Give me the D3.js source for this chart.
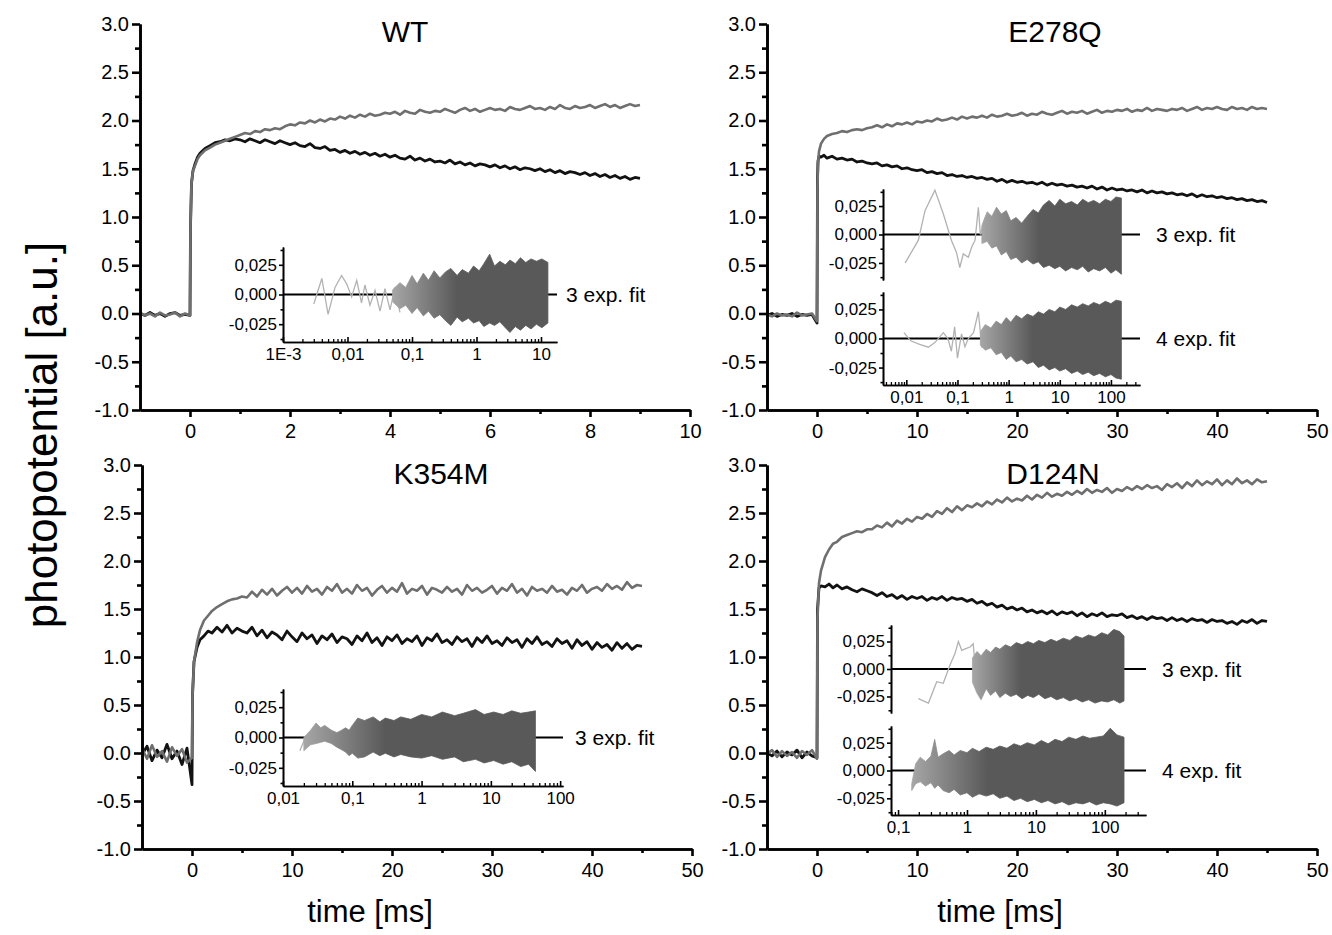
<!DOCTYPE html>
<html>
<head>
<meta charset="utf-8">
<script src="https://cdn.jsdelivr.net/npm/d3@7"></script>
<style>
  body { margin: 0; background: #fff; }
  svg { display: block; font-family: "Liberation Sans", Arial, sans-serif; }
</style>
</head>
<body>
<svg id="chart" width="1332" height="935"></svg>
<script>
// ---- main traces (time in ms, photopotential in a.u.) ----
const wtTime = [-1.0,-0.9,-0.8,-0.7,-0.6,-0.5,-0.4,-0.3,-0.2,-0.1,0.0,
  0.01,0.03,0.06,0.1,0.15,0.2,0.3,0.4,0.5,0.6,0.7,0.8,0.9,
  1.0,1.1,1.2,1.3,1.4,1.5,1.6,1.7,1.8,1.9,2.0,2.1,2.2,2.3,2.4,2.5,2.6,2.7,2.8,2.9,
  3.0,3.1,3.2,3.3,3.4,3.5,3.6,3.7,3.8,3.9,4.0,4.1,4.2,4.3,4.4,4.5,4.6,4.7,4.8,4.9,
  5.0,5.1,5.2,5.3,5.4,5.5,5.6,5.7,5.8,5.9,6.0,6.1,6.2,6.3,6.4,6.5,6.6,6.7,6.8,6.9,
  7.0,7.1,7.2,7.3,7.4,7.5,7.6,7.7,7.8,7.9,8.0,8.1,8.2,8.3,8.4,8.5,8.6,8.7,8.8,8.9,9.0];
const wtGray = [0.01,-0.02,0.0,-0.03,0.01,-0.02,-0.01,0.01,-0.03,0.0,-0.02,
  0.9,1.35,1.48,1.53,1.6,1.64,1.69,1.72,1.75,1.77,1.79,1.81,1.83,
  1.85,1.87,1.86,1.89,1.88,1.91,1.90,1.92,1.91,1.94,1.96,1.95,1.98,1.97,2.00,1.98,2.01,1.99,2.02,2.01,
  2.04,2.02,2.05,2.03,2.06,2.04,2.07,2.05,2.06,2.08,2.07,2.09,2.06,2.10,2.08,2.07,2.11,2.09,2.08,2.10,
  2.09,2.12,2.10,2.08,2.11,2.13,2.10,2.12,2.09,2.11,2.13,2.11,2.12,2.10,2.14,2.12,2.11,2.13,2.15,2.12,
  2.13,2.11,2.14,2.12,2.16,2.13,2.12,2.15,2.13,2.14,2.16,2.13,2.15,2.17,2.14,2.16,2.13,2.15,2.17,2.15,2.16];
const wtBlack = [0.0,-0.02,0.01,-0.02,0.0,-0.03,0.0,0.01,-0.02,-0.01,-0.02,
  0.9,1.35,1.48,1.55,1.62,1.66,1.71,1.74,1.77,1.78,1.80,1.79,1.81,
  1.80,1.78,1.81,1.79,1.77,1.80,1.78,1.76,1.79,1.77,1.75,1.77,1.74,1.73,1.76,1.72,1.71,1.73,1.69,1.70,
  1.67,1.69,1.66,1.68,1.65,1.67,1.64,1.66,1.63,1.65,1.62,1.64,1.61,1.60,1.63,1.59,1.61,1.58,1.60,1.57,
  1.58,1.56,1.59,1.55,1.57,1.54,1.56,1.53,1.55,1.54,1.52,1.54,1.51,1.53,1.50,1.52,1.49,1.51,1.50,1.48,
  1.50,1.47,1.49,1.46,1.48,1.45,1.47,1.46,1.44,1.46,1.43,1.45,1.42,1.44,1.41,1.43,1.40,1.42,1.39,1.41,1.40];

// the 45 ms recordings share the same time grid before trigger and after 5 ms
const preTime = [-5,-4.5,-4,-3.5,-3,-2.5,-2,-1.5,-1,-0.5,0];
const tailTime = [5.5,6,6.5,7,7.5,8,8.5,9,9.5,10,10.5,11,11.5,12,12.5,13,13.5,14,14.5,15,
  15.5,16,16.5,17,17.5,18,18.5,19,19.5,20,20.5,21,21.5,22,22.5,23,23.5,24,24.5,25,
  25.5,26,26.5,27,27.5,28,28.5,29,29.5,30,30.5,31,31.5,32,32.5,33,33.5,34,34.5,35,
  35.5,36,36.5,37,37.5,38,38.5,39,39.5,40,40.5,41,41.5,42,42.5,43,43.5,44,44.5,45];

const eqRiseTime = [0.05,0.1,0.2,0.4,0.7,1.0,1.5,2.0,2.5,3,3.5,4,4.5,5];
const eqGray = [-0.01,-0.03,0.0,-0.02,-0.01,-0.03,0.01,-0.02,-0.01,0.0,-0.08,
  1.3,1.55,1.68,1.76,1.81,1.84,1.86,1.87,1.89,1.88,1.90,1.91,1.90,1.92,
  1.93,1.95,1.93,1.96,1.94,1.97,1.96,1.98,1.96,1.99,1.98,2.00,1.99,2.02,2.00,2.01,2.03,2.01,2.04,2.02,
  2.04,2.03,2.05,2.03,2.06,2.04,2.05,2.07,2.05,2.06,2.08,2.05,2.07,2.06,2.09,2.07,2.06,2.08,2.10,2.07,
  2.09,2.08,2.10,2.07,2.09,2.11,2.08,2.10,2.09,2.11,2.10,2.12,2.09,2.11,2.10,2.13,2.10,2.12,2.11,2.10,
  2.12,2.11,2.13,2.10,2.12,2.14,2.11,2.13,2.12,2.14,2.12,2.11,2.14,2.12,2.13,2.11,2.14,2.12,2.13,2.12];
const eqBlack = [-0.02,0.0,-0.03,-0.01,-0.02,0.0,-0.03,-0.01,-0.02,-0.01,-0.1,
  1.4,1.58,1.63,1.62,1.64,1.61,1.63,1.60,1.61,1.59,1.60,1.57,1.58,1.56,
  1.55,1.56,1.53,1.54,1.52,1.53,1.50,1.51,1.49,1.48,1.49,1.46,1.47,1.45,1.46,1.43,1.44,1.42,1.43,1.41,
  1.42,1.40,1.41,1.39,1.40,1.37,1.39,1.36,1.38,1.36,1.37,1.35,1.36,1.34,1.36,1.33,1.35,1.33,1.34,1.32,
  1.33,1.31,1.32,1.30,1.32,1.29,1.31,1.28,1.30,1.28,1.29,1.27,1.28,1.26,1.28,1.25,1.27,1.25,1.26,1.24,
  1.25,1.23,1.24,1.22,1.24,1.21,1.23,1.21,1.22,1.20,1.21,1.19,1.20,1.18,1.19,1.17,1.18,1.16,1.17,1.15];

const kmRiseTime = [0.05,0.2,0.5,0.8,1.2,1.6,2.0,2.5,3,3.5,4,4.5,5];
const kmGray = [0.05,-0.06,0.08,-0.04,0.02,-0.09,0.06,-0.03,0.04,-0.10,-0.05,
  0.6,0.95,1.15,1.28,1.38,1.43,1.48,1.52,1.55,1.58,1.60,1.61,1.63,
  1.62,1.68,1.63,1.70,1.65,1.71,1.64,1.69,1.73,1.67,1.72,1.66,1.74,1.68,1.71,1.65,1.73,1.69,1.76,1.67,
  1.71,1.66,1.75,1.69,1.72,1.64,1.70,1.74,1.67,1.72,1.68,1.77,1.66,1.71,1.69,1.74,1.65,1.72,1.70,1.67,
  1.73,1.68,1.71,1.65,1.75,1.69,1.72,1.67,1.70,1.74,1.66,1.72,1.69,1.76,1.67,1.71,1.64,1.73,1.69,1.71,
  1.67,1.74,1.68,1.70,1.65,1.72,1.69,1.75,1.67,1.71,1.73,1.69,1.76,1.71,1.74,1.70,1.78,1.72,1.75,1.74];
const kmBlack = [-0.02,0.07,-0.08,0.03,-0.05,0.09,-0.06,0.02,-0.12,0.05,-0.33,
  0.6,0.95,1.1,1.18,1.22,1.27,1.25,1.31,1.26,1.33,1.25,1.30,1.27,
  1.25,1.31,1.22,1.28,1.20,1.26,1.23,1.18,1.27,1.21,1.16,1.25,1.19,1.23,1.14,1.22,1.18,1.24,1.15,1.21,
  1.19,1.13,1.22,1.17,1.25,1.15,1.20,1.12,1.21,1.17,1.23,1.14,1.19,1.16,1.22,1.12,1.20,1.17,1.24,1.15,
  1.18,1.13,1.21,1.16,1.19,1.11,1.20,1.15,1.22,1.14,1.17,1.12,1.20,1.15,1.18,1.10,1.19,1.14,1.21,1.13,
  1.16,1.11,1.19,1.14,1.17,1.09,1.18,1.12,1.16,1.08,1.15,1.10,1.13,1.07,1.15,1.09,1.14,1.08,1.12,1.11];

const dnRiseTime = [0.05,0.2,0.4,0.8,1.2,1.6,2.0,2.5,3,3.5,4,4.5,5];
const dnGray = [-0.01,0.03,-0.04,0.02,-0.03,0.01,-0.05,0.02,-0.02,0.03,-0.06,
  1.4,1.77,1.9,2.04,2.12,2.18,2.20,2.25,2.27,2.29,2.31,2.30,2.33,
  2.33,2.37,2.35,2.40,2.36,2.42,2.39,2.44,2.41,2.46,2.44,2.49,2.46,2.52,2.49,2.55,2.51,2.57,2.53,2.58,
  2.56,2.60,2.57,2.62,2.59,2.64,2.61,2.66,2.62,2.65,2.63,2.68,2.64,2.69,2.66,2.71,2.67,2.70,2.68,2.72,
  2.69,2.73,2.70,2.75,2.71,2.74,2.72,2.76,2.71,2.75,2.73,2.77,2.74,2.78,2.75,2.79,2.76,2.78,2.74,2.80,
  2.77,2.81,2.76,2.82,2.78,2.84,2.79,2.83,2.80,2.85,2.79,2.84,2.80,2.86,2.81,2.84,2.80,2.85,2.82,2.83];
const dnBlack = [0.0,-0.03,0.02,-0.04,0.01,-0.02,0.03,-0.05,0.01,-0.03,-0.05,
  1.5,1.72,1.74,1.73,1.76,1.72,1.75,1.71,1.73,1.70,1.68,1.71,1.69,
  1.67,1.64,1.67,1.63,1.65,1.61,1.64,1.60,1.63,1.61,1.63,1.59,1.62,1.60,1.63,1.59,1.62,1.60,1.61,1.58,
  1.60,1.56,1.58,1.54,1.56,1.52,1.54,1.50,1.52,1.49,1.51,1.47,1.49,1.46,1.48,1.45,1.48,1.44,1.47,1.45,
  1.47,1.43,1.46,1.42,1.45,1.43,1.46,1.42,1.44,1.43,1.45,1.41,1.43,1.40,1.42,1.39,1.42,1.40,1.41,1.38,
  1.41,1.38,1.40,1.37,1.40,1.38,1.39,1.36,1.39,1.37,1.38,1.35,1.37,1.34,1.38,1.36,1.39,1.35,1.38,1.37];

const eqTime = preTime.concat(eqRiseTime, tailTime);
const kmTime = preTime.concat(kmRiseTime, tailTime);
const dnTime = preTime.concat(dnRiseTime, tailTime);

// ---- residuals of the fits (log time axis) ----
// sparse early part (thin light line) + envelope of the dense part
const wtR3SparseT = [0.003,0.004,0.005,0.0064,0.0081,0.0097,0.0116,0.0139,0.0165,0.0186,0.0223,0.0267,0.0319,0.0381,0.0456,0.0545,0.065];
const wtR3SparseV = [-0.008,0.0135,-0.0167,0.006,0.016,0.009,-0.002,0.012,-0.007,0.008,-0.009,0.0035,-0.014,0.005,-0.013,0.006,-0.015];
const wtR3BandT = [0.05,0.065,0.08,0.1,0.12,0.15,0.18,0.22,0.27,0.33,0.4,0.5,0.6,0.75,0.9,1.1,1.3,1.6,1.9,2.3,2.8,3.3,4.0,4.8,5.8,7.0,8.5,10.3,12.8];
const wtR3BandHi = [0.004,0.010,0.006,0.016,0.009,0.018,0.012,0.020,0.014,0.019,0.022,0.016,0.021,0.018,0.024,0.020,0.026,0.034,0.024,0.028,0.025,0.029,0.026,0.031,0.027,0.030,0.028,0.030,0.027];
const wtR3BandLo = [-0.006,-0.012,-0.009,-0.016,-0.011,-0.018,-0.014,-0.020,-0.017,-0.022,-0.026,-0.019,-0.023,-0.020,-0.024,-0.022,-0.027,-0.024,-0.026,-0.023,-0.028,-0.032,-0.027,-0.030,-0.026,-0.029,-0.025,-0.028,-0.024];

const eqR3SparseT = [0.0095,0.0172,0.0232,0.0362,0.053,0.076,0.096,0.111,0.13,0.163,0.19,0.221,0.256,0.28,0.35];
const eqR3SparseV = [-0.025,-0.005,0.021,0.039,0.018,-0.005,-0.016,-0.029,-0.017,-0.02,-0.011,-0.005,0.024,0.0,0.015];
const eqR3BandT = [0.3,0.38,0.47,0.58,0.72,0.9,1.1,1.4,1.8,2.3,3.0,3.8,4.8,6.2,8,10,13,17,22,28,36,46,60,78,100,125,160];
const eqR3BandHi = [0.008,0.020,0.016,0.024,0.018,0.021,0.012,0.015,0.010,0.016,0.022,0.019,0.026,0.030,0.025,0.031,0.027,0.029,0.026,0.031,0.028,0.030,0.027,0.031,0.029,0.033,0.032];
const eqR3BandLo = [-0.008,-0.006,-0.012,-0.010,-0.018,-0.015,-0.022,-0.020,-0.025,-0.022,-0.026,-0.024,-0.029,-0.027,-0.030,-0.028,-0.032,-0.029,-0.031,-0.028,-0.033,-0.030,-0.032,-0.029,-0.034,-0.031,-0.035];

const eqR4SparseT = [0.009,0.0122,0.0182,0.027,0.036,0.053,0.065,0.076,0.088,0.10,0.12,0.14,0.163,0.206,0.256,0.30];
const eqR4SparseV = [0.005,-0.002,-0.005,-0.0075,-0.0035,0.005,0.0,-0.011,0.01,-0.017,0.004,-0.007,0.0,0.005,0.023,-0.008];
const eqR4BandT = [0.28,0.35,0.45,0.57,0.72,0.9,1.1,1.4,1.8,2.3,3.0,3.8,4.8,6.2,8,10,13,17,22,28,36,46,60,78,100,125,160];
const eqR4BandHi = [0.006,0.012,0.009,0.015,0.012,0.018,0.014,0.020,0.017,0.021,0.019,0.023,0.021,0.025,0.023,0.027,0.025,0.029,0.027,0.030,0.028,0.031,0.029,0.032,0.030,0.033,0.032];
const eqR4BandLo = [-0.006,-0.010,-0.008,-0.014,-0.012,-0.018,-0.015,-0.020,-0.018,-0.022,-0.020,-0.025,-0.023,-0.027,-0.025,-0.028,-0.026,-0.030,-0.028,-0.031,-0.029,-0.032,-0.030,-0.033,-0.031,-0.034,-0.035];

const kmR3SparseT = [0.0175,0.021,0.025,0.03];
const kmR3SparseV = [-0.011,0.0,-0.004,0.008];
const kmR3BandT = [0.02,0.025,0.03,0.035,0.04,0.05,0.06,0.07,0.08,0.09,0.1,0.12,0.15,0.2,0.25,0.3,0.4,0.5,0.7,1,1.4,2,3,4,6,8,11,15,20,27,35,44];
const kmR3BandHi = [0.0,0.006,0.012,0.008,0.010,0.006,0.004,0.006,0.008,0.006,0.010,0.016,0.014,0.017,0.013,0.016,0.014,0.017,0.015,0.019,0.017,0.021,0.018,0.020,0.023,0.019,0.021,0.019,0.022,0.020,0.021,0.022];
const kmR3BandLo = [-0.011,-0.006,-0.005,-0.004,-0.003,-0.005,-0.008,-0.010,-0.012,-0.015,-0.013,-0.017,-0.016,-0.012,-0.015,-0.013,-0.016,-0.014,-0.016,-0.017,-0.015,-0.018,-0.016,-0.020,-0.018,-0.021,-0.019,-0.022,-0.020,-0.024,-0.022,-0.028];

const dnR3SparseT = [0.197,0.276,0.364,0.453,0.567,0.67,0.75,0.84,1.0,1.11,1.23,1.38];
const dnR3SparseV = [-0.027,-0.031,-0.0115,-0.013,0.0037,0.014,0.025,0.017,0.019,0.02,0.023,-0.012];
const dnR3BandT = [1.2,1.4,1.6,1.9,2.2,2.6,3.0,3.6,4.3,5.2,6.3,7.6,9.2,11,13.5,16.5,20,25,31,38,47,58,72,90,110,135,165,190];
const dnR3BandHi = [0.010,0.016,0.012,0.018,0.015,0.020,0.018,0.022,0.020,0.024,0.022,0.025,0.023,0.026,0.024,0.027,0.025,0.028,0.026,0.030,0.028,0.031,0.029,0.033,0.031,0.036,0.034,0.030];
const dnR3BandLo = [-0.012,-0.022,-0.028,-0.018,-0.024,-0.020,-0.026,-0.022,-0.025,-0.023,-0.027,-0.024,-0.026,-0.023,-0.027,-0.025,-0.028,-0.026,-0.029,-0.027,-0.030,-0.028,-0.031,-0.029,-0.030,-0.028,-0.031,-0.029];

const dnR4SparseT = [];
const dnR4SparseV = [];
const dnR4BandT = [0.158,0.18,0.21,0.25,0.3,0.34,0.38,0.45,0.55,0.65,0.8,1.0,1.2,1.5,1.9,2.4,3.0,3.8,4.8,6,7.5,9.5,12,15,19,24,30,38,48,60,75,95,120,150,190];
const dnR4BandHi = [-0.012,0.006,0.012,0.008,0.013,0.028,0.012,0.015,0.018,0.014,0.018,0.016,0.020,0.017,0.021,0.019,0.022,0.020,0.024,0.022,0.025,0.023,0.027,0.024,0.028,0.026,0.030,0.028,0.031,0.029,0.030,0.031,0.038,0.032,0.030];
const dnR4BandLo = [-0.018,-0.012,-0.010,-0.014,-0.011,-0.016,-0.013,-0.018,-0.020,-0.017,-0.022,-0.020,-0.024,-0.021,-0.023,-0.021,-0.025,-0.023,-0.027,-0.025,-0.028,-0.026,-0.029,-0.027,-0.030,-0.028,-0.031,-0.029,-0.030,-0.028,-0.031,-0.029,-0.030,-0.032,-0.029];

// ---- tick values / labels ----
const mainYTicks = [-1, -0.5, 0, 0.5, 1, 1.5, 2, 2.5, 3];
const mainYMinor = [-0.75, -0.25, 0.25, 0.75, 1.25, 1.75, 2.25, 2.75];
const wtXTicks = [0, 2, 4, 6, 8, 10];
const wtXMinor = [1, 3, 5, 7, 9];
const longXTicks = [0, 10, 20, 30, 40, 50];
const longXMinor = [5, 15, 25, 35, 45];
const resYTicks = [0.025, 0, -0.025];
const resYLabels = ['0,025', '0,000', '-0,025'];
const resYMinor = [0.0375, 0.0125, -0.0125, -0.0375];
const logTickValues = [0.001, 0.01, 0.1, 1, 10, 100];
const logTickLabels = ['1E-3', '0,01', '0,1', '1', '10', '100'];

const GRAY = '#6f6f6f';
const BLACK = '#121212';

const svg = d3.select('#chart');
svg.append('rect').attr('width', 1332).attr('height', 935).attr('fill', '#fff');
const defs = svg.append('defs');

function zip(t, v) {
    return t.map((d, i) => [d, v[i]]);
}

function styleAxis(g, width) {
    g.select('.domain').attr('stroke', '#000').attr('stroke-width', width);
    g.selectAll('.tick line').attr('stroke', '#000').attr('stroke-width', width);
}

function styleLabels(g, size) {
    g.selectAll('text').attr('font-size', size).attr('font-family', null).attr('fill', '#000');
}

// plain hyphen for negatives, as in the original figure
const fmt1 = d => d3.format('.1f')(d).replace('\u2212', '-');

function drawPanel(p) {
    const x = d3.scaleLinear().domain(p.xDomain).range(p.xRange);
    const y = d3.scaleLinear().domain([-1, 3]).range(p.yRange);
    const g = svg.append('g');

    g.append('text')
        .attr('x', p.titleX).attr('y', p.titleY)
        .attr('text-anchor', 'middle')
        .attr('font-size', 30)
        .text(p.title);

    const line = d3.line().x(d => x(d[0])).y(d => y(d[1]));
    g.append('path')
        .datum(zip(p.time, p.black))
        .attr('fill', 'none').attr('stroke', BLACK).attr('stroke-width', 2.8)
        .attr('stroke-linejoin', 'round')
        .attr('d', line);
    g.append('path')
        .datum(zip(p.time, p.gray))
        .attr('fill', 'none').attr('stroke', GRAY).attr('stroke-width', 2.6)
        .attr('stroke-linejoin', 'round')
        .attr('d', line);

    // y axis, major + minor ticks
    const yAxis = g.append('g')
        .attr('transform', `translate(${p.xRange[0]},0)`)
        .call(d3.axisLeft(y).tickValues(mainYTicks).tickSize(8).tickSizeOuter(0)
            .tickPadding(3).tickFormat(fmt1));
    styleAxis(yAxis, 2.6);
    styleLabels(yAxis, 20);
    const yMinor = g.append('g')
        .attr('transform', `translate(${p.xRange[0]},0)`)
        .call(d3.axisLeft(y).tickValues(mainYMinor).tickSize(5).tickSizeOuter(0).tickFormat(''));
    styleAxis(yMinor, 2.6);

    const xAxis = g.append('g')
        .attr('transform', `translate(0,${p.yRange[0]})`)
        .call(d3.axisBottom(x).tickValues(p.xTicks).tickSize(7).tickSizeOuter(0).tickPadding(7));
    styleAxis(xAxis, 2.6);
    styleLabels(xAxis, 20);
    const xMinor = g.append('g')
        .attr('transform', `translate(0,${p.yRange[0]})`)
        .call(d3.axisBottom(x).tickValues(p.xMinor).tickSize(4).tickSizeOuter(0).tickFormat(''));
    styleAxis(xMinor, 2.6);
}

let gradId = 0;
function drawInset(c) {
    const x = d3.scaleLog().domain(c.xDomain).range(c.xRange);
    const g = svg.append('g');

    c.rows.forEach(r => {
        const y = d3.scaleLinear().domain([-0.04, 0.04]).range(r.yRange);

        g.append('line')
            .attr('x1', c.xRange[0]).attr('x2', c.xRange[1])
            .attr('y1', y(0)).attr('y2', y(0))
            .attr('stroke', '#000').attr('stroke-width', 2.2);

        if (r.sparseT.length) {
            g.append('path')
                .datum(zip(r.sparseT, r.sparseV))
                .attr('fill', 'none').attr('stroke', '#b2b2b2').attr('stroke-width', 1.3)
                .attr('d', d3.line().x(d => x(d[0])).y(d => y(d[1])));
        }

        // dense part: gets darker as the points pile up on the log axis
        const id = 'band' + (gradId++);
        const grad = defs.append('linearGradient').attr('id', id)
            .attr('gradientUnits', 'userSpaceOnUse')
            .attr('x1', x(r.bandT[0])).attr('x2', x(r.darkFrom))
            .attr('y1', 0).attr('y2', 0);
        grad.append('stop').attr('offset', 0).attr('stop-color', '#a6a6a6');
        grad.append('stop').attr('offset', 1).attr('stop-color', '#595959');

        const band = r.bandT.map((t, i) => ({ t, hi: r.bandHi[i], lo: r.bandLo[i] }));
        g.append('path')
            .datum(band)
            .attr('fill', `url(#${id})`)
            .attr('stroke', `url(#${id})`).attr('stroke-width', 0.8)
            .attr('d', d3.area().x(d => x(d.t)).y0(d => y(d.lo)).y1(d => y(d.hi)));

        const yAxis = g.append('g')
            .attr('transform', `translate(${c.xRange[0]},0)`)
            .call(d3.axisLeft(y).tickValues(resYTicks).tickSize(4).tickSizeOuter(0)
                .tickPadding(2).tickFormat((d, i) => resYLabels[i]));
        styleAxis(yAxis, 1.6);
        styleLabels(yAxis, 17);
        const yMinor = g.append('g')
            .attr('transform', `translate(${c.xRange[0]},0)`)
            .call(d3.axisLeft(y).tickValues(resYMinor).tickSize(2.5).tickSizeOuter(0).tickFormat(''));
        styleAxis(yMinor, 1.6);

        g.append('text')
            .attr('x', c.labelX).attr('y', y(0))
            .attr('dy', '0.36em')
            .attr('font-size', 21)
            .text(r.label);
    });

    // log x axis under the last row, ticks pointing inward
    const [lo, hi] = c.xDomain;
    const majors = logTickValues.filter(v => v >= lo * 0.999 && v <= hi);
    const minors = [];
    d3.range(Math.floor(Math.log10(lo)), Math.ceil(Math.log10(hi))).forEach(k => {
        d3.range(2, 10).forEach(m => {
            const v = m * Math.pow(10, k);
            if (v > lo && v < hi) minors.push(v);
        });
    });
    const xAxis = g.append('g')
        .attr('transform', `translate(0,${c.xAxisY})`)
        .call(d3.axisBottom(x).tickValues(majors).tickSize(-5).tickSizeOuter(0).tickPadding(6)
            .tickFormat(v => logTickLabels[logTickValues.indexOf(v)]));
    styleAxis(xAxis, 1.6);
    styleLabels(xAxis, 17);
    const xMinor = g.append('g')
        .attr('transform', `translate(0,${c.xAxisY})`)
        .call(d3.axisBottom(x).tickValues(minors).tickSize(-3).tickSizeOuter(0).tickFormat(''));
    styleAxis(xMinor, 1.3);
}

drawPanel({ title: 'WT', titleX: 405, titleY: 42, xDomain: [-1, 10], xRange: [140, 690], yRange: [410, 24],
    xTicks: wtXTicks, xMinor: wtXMinor, time: wtTime, gray: wtGray, black: wtBlack });
drawPanel({ title: 'E278Q', titleX: 1055, titleY: 42, xDomain: [-5, 50], xRange: [767, 1317], yRange: [410, 24],
    xTicks: longXTicks, xMinor: longXMinor, time: eqTime, gray: eqGray, black: eqBlack });
drawPanel({ title: 'K354M', titleX: 441, titleY: 484, xDomain: [-5, 50], xRange: [142, 692], yRange: [849, 465],
    xTicks: longXTicks, xMinor: longXMinor, time: kmTime, gray: kmGray, black: kmBlack });
drawPanel({ title: 'D124N', titleX: 1053, titleY: 484, xDomain: [-5, 50], xRange: [767, 1317], yRange: [849, 465],
    xTicks: longXTicks, xMinor: longXMinor, time: dnTime, gray: dnGray, black: dnBlack });

drawInset({ xDomain: [0.001, 17.7], xRange: [283, 557], xAxisY: 342, labelX: 566, rows: [
    { yRange: [342, 247], label: '3 exp. fit', sparseT: wtR3SparseT, sparseV: wtR3SparseV,
      bandT: wtR3BandT, bandHi: wtR3BandHi, bandLo: wtR3BandLo, darkFrom: 0.5 }] });
drawInset({ xDomain: [0.0035, 370], xRange: [883, 1140], xAxisY: 385, labelX: 1156, rows: [
    { yRange: [280, 189], label: '3 exp. fit', sparseT: eqR3SparseT, sparseV: eqR3SparseV,
      bandT: eqR3BandT, bandHi: eqR3BandHi, bandLo: eqR3BandLo, darkFrom: 4 },
    { yRange: [385, 292], label: '4 exp. fit', sparseT: eqR4SparseT, sparseV: eqR4SparseV,
      bandT: eqR4BandT, bandHi: eqR4BandHi, bandLo: eqR4BandLo, darkFrom: 3 }] });
drawInset({ xDomain: [0.01, 110], xRange: [283, 563], xAxisY: 786, labelX: 575, rows: [
    { yRange: [786, 689], label: '3 exp. fit', sparseT: kmR3SparseT, sparseV: kmR3SparseV,
      bandT: kmR3BandT, bandHi: kmR3BandHi, bandLo: kmR3BandLo, darkFrom: 0.3 }] });
drawInset({ xDomain: [0.079, 396], xRange: [891, 1146], xAxisY: 815, labelX: 1162, rows: [
    { yRange: [713, 625], label: '3 exp. fit', sparseT: dnR3SparseT, sparseV: dnR3SparseV,
      bandT: dnR3BandT, bandHi: dnR3BandHi, bandLo: dnR3BandLo, darkFrom: 6 },
    { yRange: [815, 726], label: '4 exp. fit', sparseT: dnR4SparseT, sparseV: dnR4SparseV,
      bandT: dnR4BandT, bandHi: dnR4BandHi, bandLo: dnR4BandLo, darkFrom: 2 }] });

// axis titles
svg.append('text')
    .attr('transform', 'translate(57,435) rotate(-90)')
    .attr('text-anchor', 'middle')
    .attr('font-size', 44)
    .text('photopotential [a.u.]');
[370, 1000].forEach(cx => {
    svg.append('text')
        .attr('x', cx).attr('y', 922)
        .attr('text-anchor', 'middle')
        .attr('font-size', 31)
        .text('time [ms]');
});
</script>
</body>
</html>
